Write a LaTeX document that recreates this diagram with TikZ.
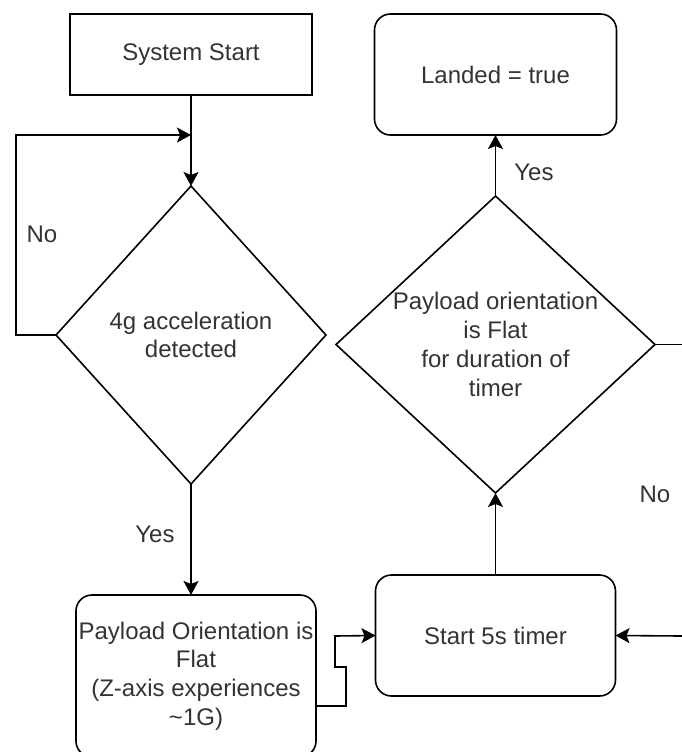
\documentclass[tikz,border=0pt]{standalone}
\usepackage{fontspec}
\setmainfont{Liberation Sans}
\usetikzlibrary{shapes.geometric,arrows.meta}
\begin{document}
\begin{tikzpicture}[x=0.5pt,y=-0.5pt,
  every node/.style={font=\fontsize{12pt}{14.4pt}\selectfont, text=black!80},
  sqbox/.style={draw, line width=0.8pt, inner sep=0pt, outer sep=0pt, align=center},
  rbox/.style={sqbox, rounded corners=8pt},
  dia/.style={diamond, draw, line width=0.8pt, inner sep=0pt, outer sep=0pt},
  txt/.style={align=center, inner sep=0pt},
  lbl/.style={inner sep=0pt},
  link/.style={draw, line width=0.8pt},
  arr/.style={link, -{Stealth[length=7pt,width=7.5pt,inset=1.5pt]}}
]
\clip (0,0) rectangle (682,752);

% boxes
\node[sqbox, minimum width=121pt, minimum height=40.5pt] (ss) at (191,54.5) {System Start};
\node[rbox, minimum width=121pt, minimum height=60.5pt] (land) at (495.5,74.5) {Landed = true};
\node[rbox, minimum width=120pt, minimum height=81pt] (pay) at (196,676) {};
\node[txt] at (pay) {Payload Orientation is\\Flat\\(Z-axis experiences\\\textasciitilde1G)};
\node[rbox, minimum width=120pt, minimum height=60.5pt] (tm) at (495.5,635.5) {Start 5s timer};

% decisions
\node[dia, minimum width=135pt, minimum height=149pt] (d1) at (191,335) {};
\node[txt] at (d1) {4g acceleration\\detected};
\node[dia, minimum width=159.5pt, minimum height=148.5pt] (d2) at (495.5,344.5) {};
\node[txt] at (d2) {Payload orientation\\is Flat\\for duration of\\timer};

% free ends and bends
\coordinate (loopL) at (16,135);
\coordinate (join) at (191,135);
\coordinate (j1) at (346,706);
\coordinate (j2) at (346,667);
\coordinate (j3) at (335,667);
\coordinate (j4) at (335,636);
\coordinate (rin) at (682,636);
\coordinate (rout) at (682,344.5);

% connectors
\draw[arr] (ss) -- (d1.north);
\draw[arr] (d1.west) -- (d1.west -| loopL) -- (loopL) -- (join);
\draw[arr] (d1.south) -- (d1.south |- pay.north);
\draw[arr] (pay.east |- j1) -- (j1) -- (j2) -- (j3) -- (j4) -- (tm.west);
\draw[arr] (rin) -- (tm.east);
\draw[arr] (tm.north) -- (d2.south);
\draw[link] (d2.east) -- (rout);
\draw[arr] (d2.north) -- (land.south);

% labels
\node[lbl] at (42,234) {No};
\node[lbl] at (155,534) {Yes};
\node[lbl] at (534,172) {Yes};
\node[lbl] at (655,494) {No};
\end{tikzpicture}
\end{document}
